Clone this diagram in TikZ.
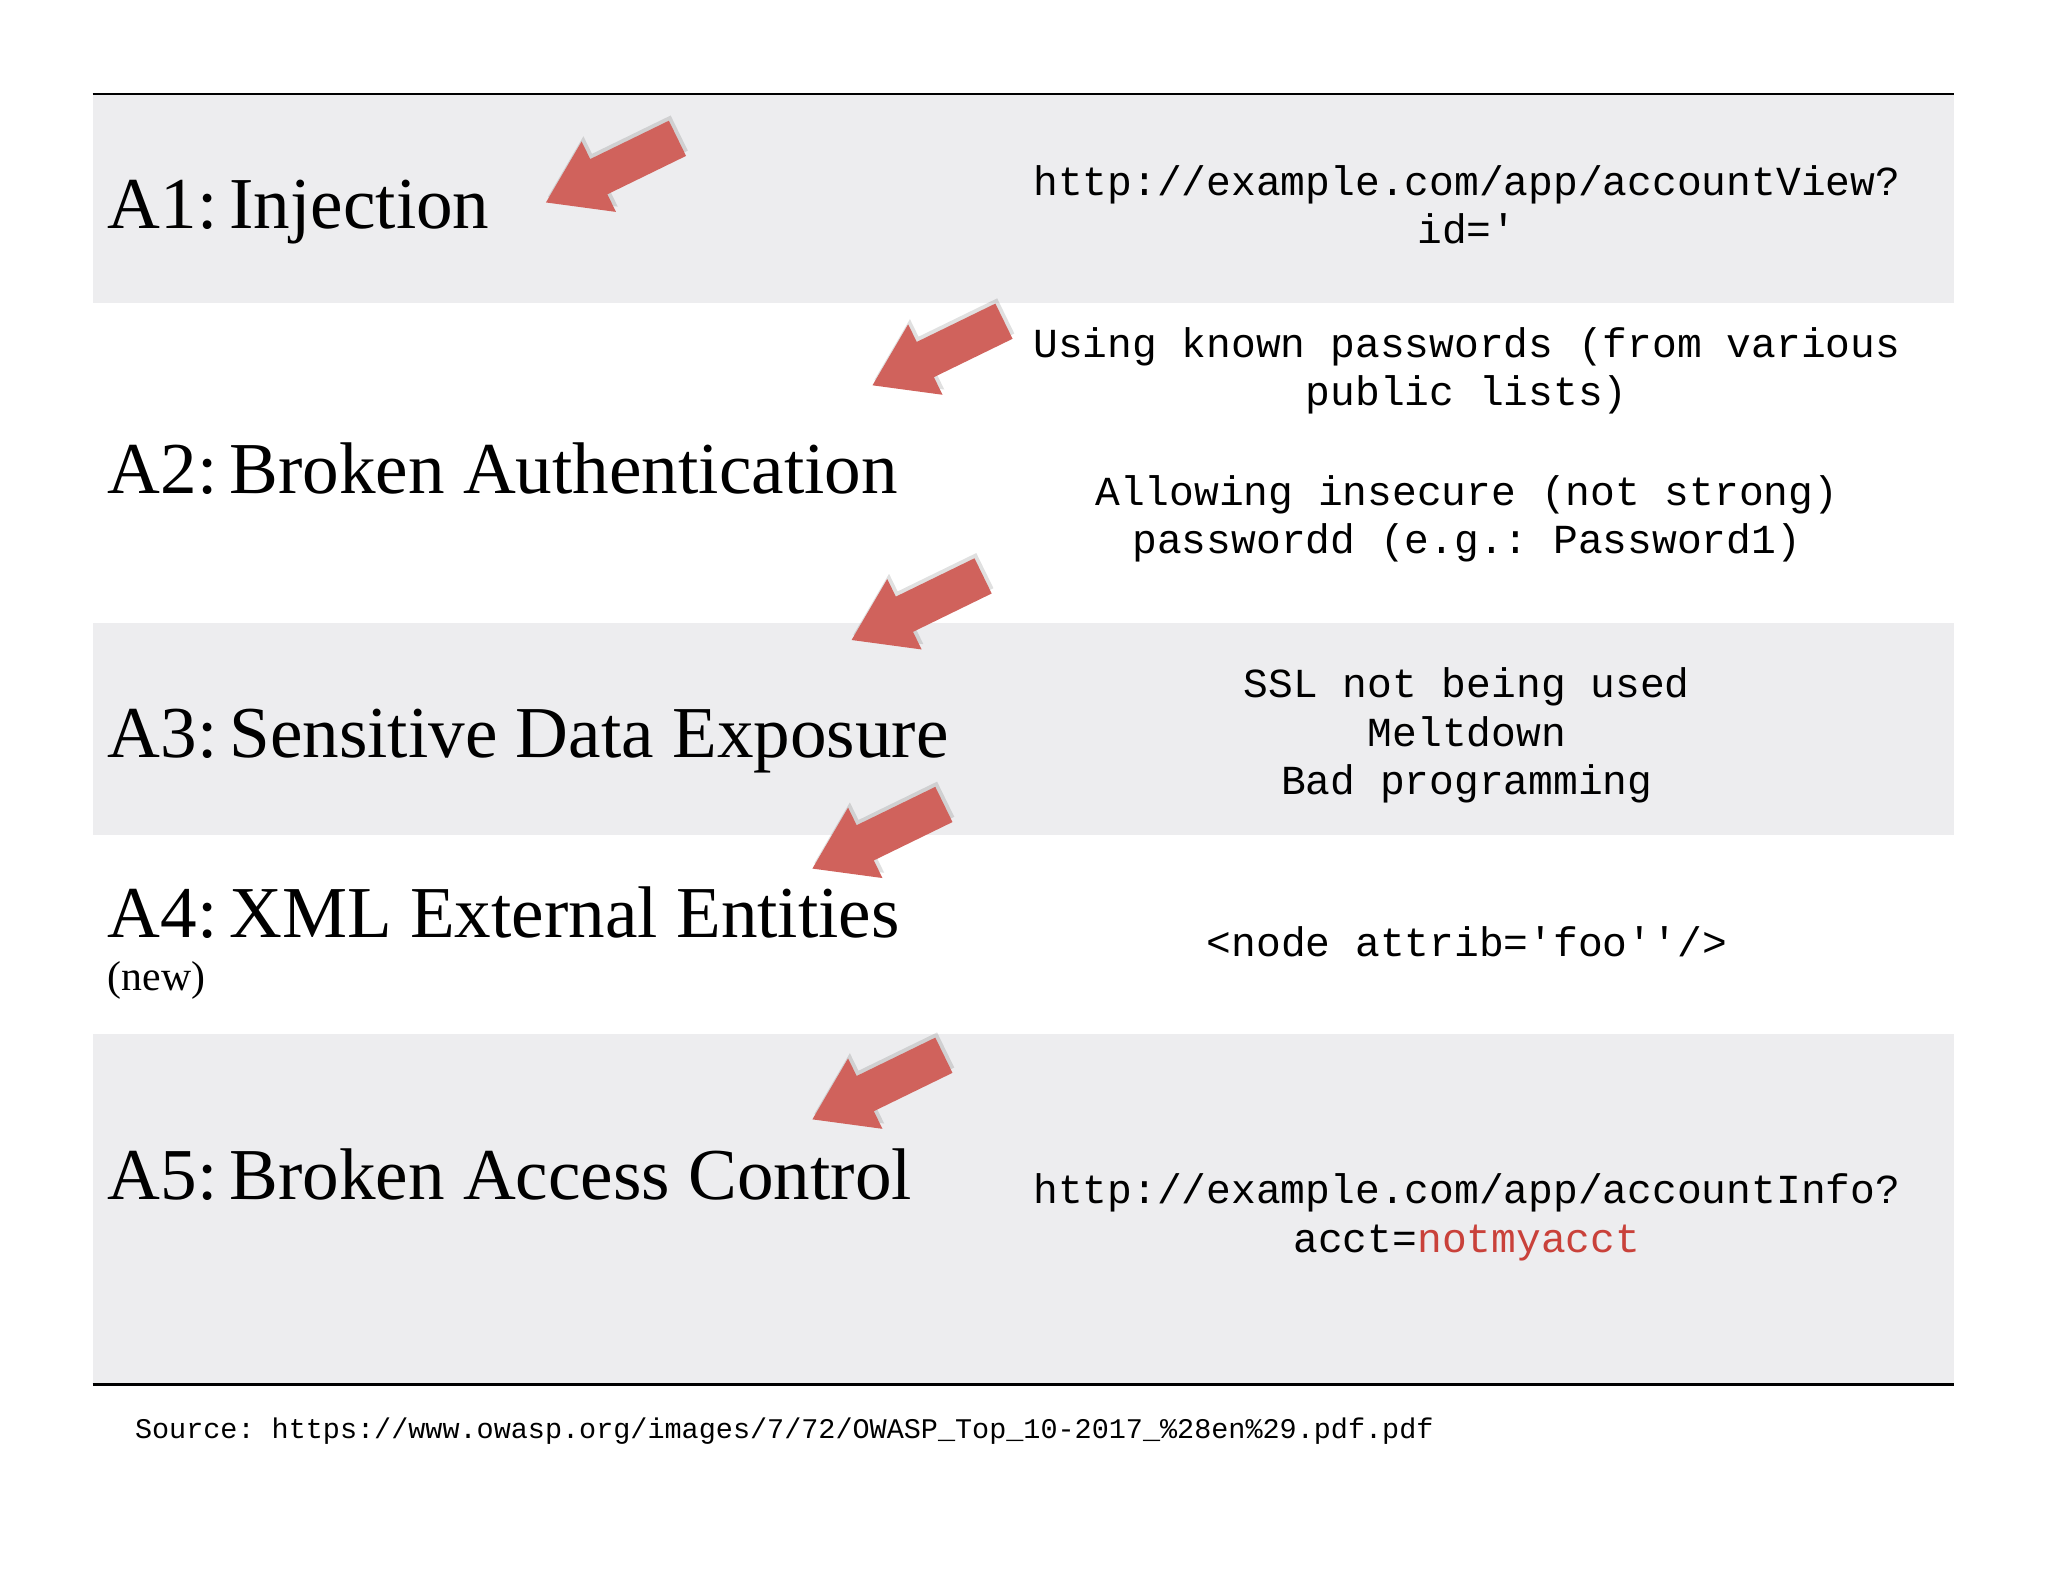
\documentclass[tikz,border=0pt]{standalone}
\usepackage{fontspec}
\setmainfont{Liberation Serif}
\setmonofont{Liberation Mono}
\definecolor{band}{HTML}{EDEDEF}
\definecolor{arr}{HTML}{D0625C}
\definecolor{redtxt}{HTML}{C9413A}
\tikzset{
  ttl/.style={anchor=base west,inner sep=0pt,font=\fontsize{28}{32}\selectfont},
  mono/.style={align=center,inner sep=0pt,font=\ttfamily\fontsize{15.8}{18.5}\selectfont},
}
\newcommand{\redarrow}[2]{%
  \begin{scope}[shift={(#1)},rotate=#2]
    \fill[black,opacity=0.12] (3,-3) -- (48,-33) -- (48,-18) -- (115,-18) -- (115,12) -- (48,12) -- (48,27) -- cycle;
    \fill[arr] (0,0) -- (45,-30) -- (45,-15) -- (112,-15) -- (112,15) -- (45,15) -- (45,30) -- cycle;
  \end{scope}}
\begin{document}
\begin{tikzpicture}[x={(0.5pt,0)},y={(0,-0.5pt)}]
\useasboundingbox (0,0) rectangle (1568,1211);
\fill[white] (0,0) rectangle (1568,1211);
\fill[band] (71,72) rectangle (1496,232);
\fill[band] (71,477) rectangle (1496,639);
\fill[band] (71,792) rectangle (1496,1060);
\draw[line width=1pt] (71,72) -- (1496,72);
\draw[line width=1.5pt] (71,1060) -- (1496,1060);

\node[ttl] (a1) at (82,175) {A1:\,Injection};
\node[ttl] (a2) at (82,378) {A2:\,Broken Authentication};
\node[ttl] (a3) at (82,580) {A3:\,Sensitive Data Exposure};
\node[ttl] (a4) at (82,718) {A4:\,XML External Entities};
\node[anchor=base west,inner sep=0pt,font=\fontsize{16}{18}\selectfont] (a4n) at (82,758) {(new)};
\node[ttl] (a5) at (82,918) {A5:\,Broken Access Control};

\redarrow{418,155}{26}
\redarrow{668,295}{26}
\redarrow{652,490}{26}
\redarrow{622,665}{26}
\redarrow{622,857}{26}

\node[mono] (t1) at (1123,157) {http://example.com/app/accountView?\\id='};
\node[mono] (t2) at (1123,284) {Using known passwords (from various\\public lists)};
\node[mono] (t3) at (1123,397) {Allowing insecure (not strong)\\passwordd (e.g.: Password1)};
\node[mono] (t4) at (1123,563) {SSL not being used\\Meltdown\\Bad programming};
\node[mono] (t5) at (1123,721) {<node attrib='foo''/>};
\node[mono] (t6) at (1123,932) {http://example.com/app/accountInfo?\\acct=\textcolor{redtxt}{notmyacct}};
\node[anchor=base west,inner sep=0pt,font=\ttfamily\fontsize{10.9}{13}\selectfont] (src) at (103,1101) {Source: https://www.owasp.org/images/7/72/OWASP\_Top\_10-2017\_\%28en\%29.pdf.pdf};
\end{tikzpicture}
\end{document}
